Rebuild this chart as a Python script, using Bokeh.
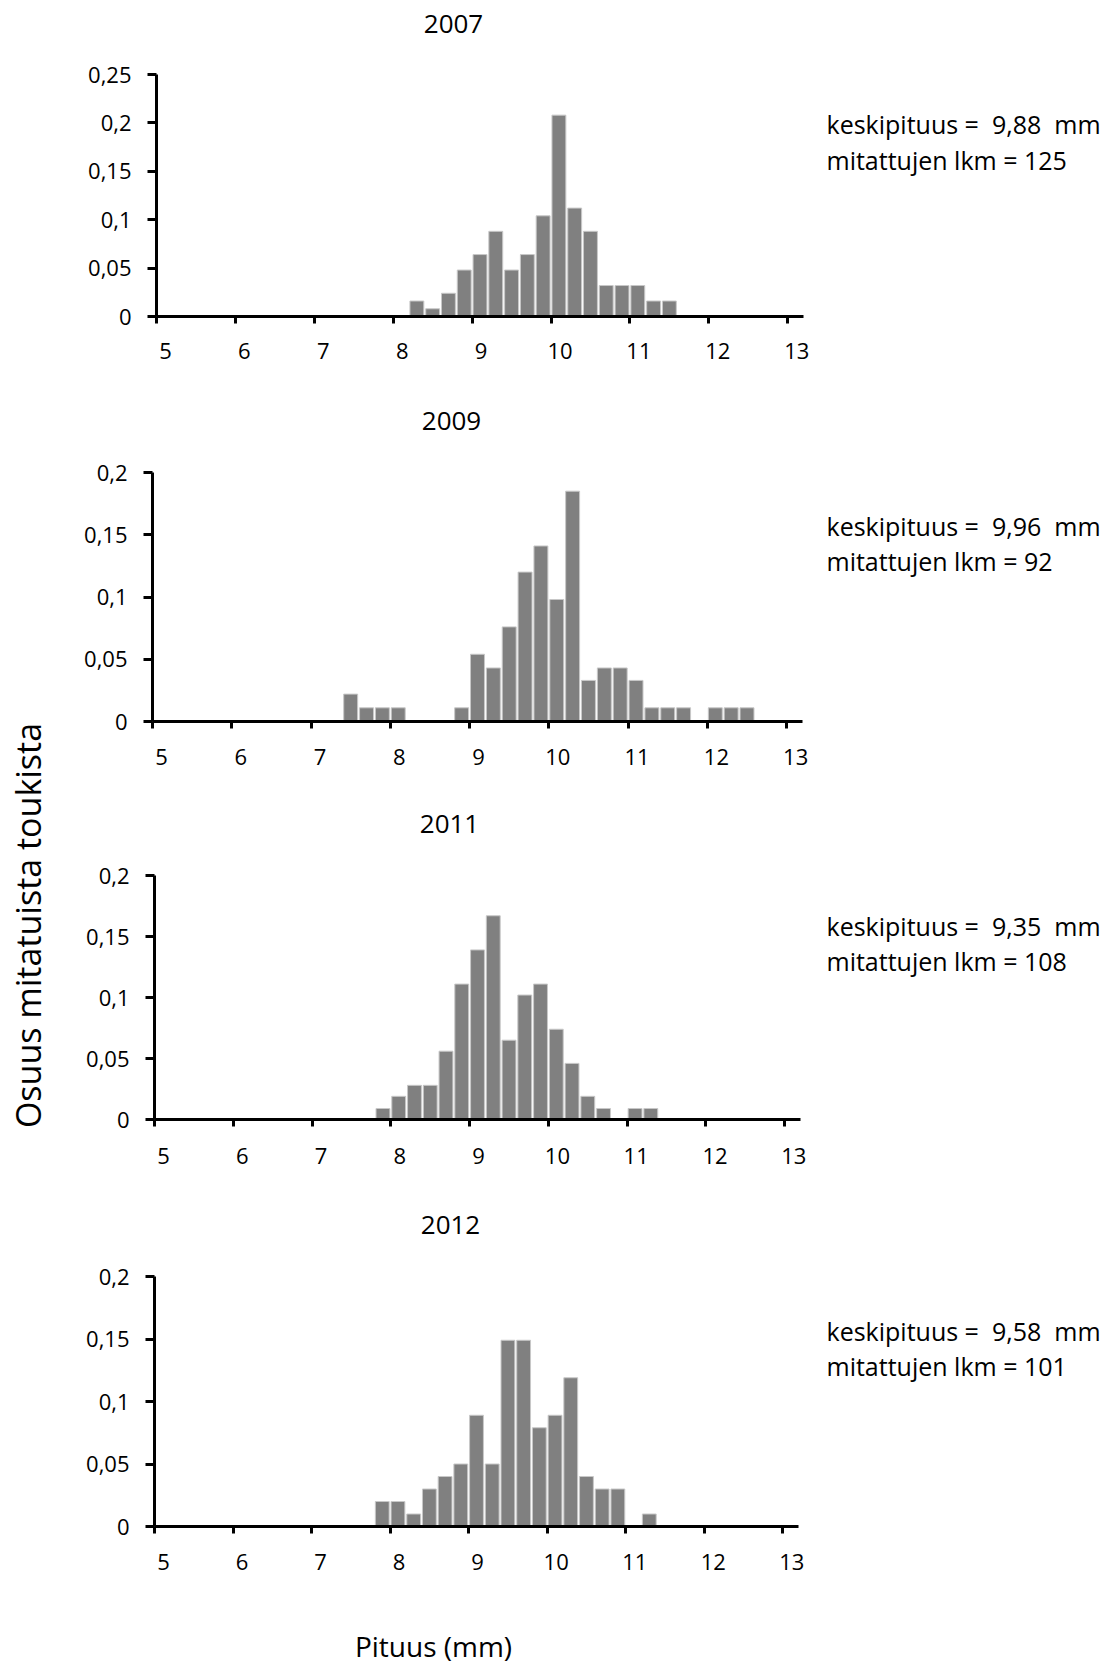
from bokeh.plotting import figure
from bokeh.layouts import row, column
from bokeh.models import Label, LabelSet, ColumnDataSource, FixedTicker, Range1d
from bokeh.core.properties import value
from bokeh.embed import file_html
from bokeh.resources import INLINE

# ---------------- data ----------------
years = ["2007", "2009", "2011", "2012"]
bin_width = 0.2  # mm, length class width

bins_2007 = [8.2, 8.4, 8.6, 8.8, 9.0, 9.2, 9.4, 9.6, 9.8, 10.0, 10.2, 10.4, 10.6, 10.8, 11.0, 11.2, 11.4]
vals_2007 = [0.016, 0.008, 0.024, 0.048, 0.064, 0.088, 0.048, 0.064, 0.104, 0.208, 0.112, 0.088, 0.032, 0.032, 0.032, 0.016, 0.016]

bins_2009 = [7.4, 7.6, 7.8, 8.0, 8.8, 9.0, 9.2, 9.4, 9.6, 9.8, 10.0, 10.2, 10.4, 10.6, 10.8, 11.0, 11.2, 11.4, 11.6, 12.0, 12.2, 12.4]
vals_2009 = [0.022, 0.011, 0.011, 0.011, 0.011, 0.054, 0.043, 0.076, 0.120, 0.141, 0.098, 0.185, 0.033, 0.043, 0.043, 0.033, 0.011, 0.011, 0.011, 0.011, 0.011, 0.011]

bins_2011 = [7.8, 8.0, 8.2, 8.4, 8.6, 8.8, 9.0, 9.2, 9.4, 9.6, 9.8, 10.0, 10.2, 10.4, 10.6, 11.0, 11.2]
vals_2011 = [0.009, 0.019, 0.028, 0.028, 0.056, 0.111, 0.139, 0.167, 0.065, 0.102, 0.111, 0.074, 0.046, 0.019, 0.009, 0.009, 0.009]

bins_2012 = [7.8, 8.0, 8.2, 8.4, 8.6, 8.8, 9.0, 9.2, 9.4, 9.6, 9.8, 10.0, 10.2, 10.4, 10.6, 10.8, 11.2]
vals_2012 = [0.020, 0.020, 0.010, 0.030, 0.040, 0.050, 0.089, 0.050, 0.149, 0.149, 0.079, 0.089, 0.119, 0.040, 0.030, 0.030, 0.010]

mean_lengths = ["9,88", "9,96", "9,35", "9,58"]
counts = ["125", "92", "108", "101"]

x_ticks = [5, 6, 7, 8, 9, 10, 11, 12, 13]
x_tick_labels = ["5", "6", "7", "8", "9", "10", "11", "12", "13"]
y_max = [0.25, 0.2, 0.2, 0.2]
y_ticks_025 = [0, 0.05, 0.1, 0.15, 0.2, 0.25]
y_labels_025 = ["0", "0,05", "0,1", "0,15", "0,2", "0,25"]
y_ticks_02 = [0, 0.05, 0.1, 0.15, 0.2]
y_labels_02 = ["0", "0,05", "0,1", "0,15", "0,2"]

y_title = "Osuus mitatuista toukista"
x_title = "Pituus (mm)"

all_bins = [bins_2007, bins_2009, bins_2011, bins_2012]
all_vals = [vals_2007, vals_2009, vals_2011, vals_2012]

# ---------------- layout / style (page pixels) ----------------
FONT = "Open Sans"
BAR_FILL = "#808080"
BAR_LINE = "#c8c8c8"
PAGE_W, PAGE_H = 1113, 1664
LEFT_W = 60
COL_W = PAGE_W - LEFT_W
RIGHT_PAD = 12     # right border of a panel
AXIS_BB = 16       # room under the frame for the x-axis ticks
X_START, X_END = 5, 13.2
NBSP = "\u00a0"

# title strips: (top, height, title centre x, title centre y)
title_strips = [(0, 48, 453, 23), (395, 50, 451, 420), (790, 58, 449, 823), (1185, 65, 450, 1224)]
# panel rows: top, height, y-axis x, frame_w, border_top, frame_h, tick-label centre y,
#             stats text x, stats line 1 y, stats line 2 y
rows_layout = [
    dict(top=48, h=347, ax=156, fw=647, bt=26, fh=242, ty=350, sx=826, s1=123, s2=159),
    dict(top=445, h=345, ax=152, fw=650, bt=27, fh=249, ty=756, sx=826, s1=525, s2=560),
    dict(top=848, h=337, ax=154, fw=646, bt=27, fh=244, ty=1155, sx=826, s1=925, s2=960),
    dict(top=1250, h=340, ax=154, fw=644, bt=26, fh=250, ty=1561, sx=826, s1=1330, s2=1365),
]
xlabel_strip = (1590, 74, 433, 1645)
ylabel_pos = (27, 925)


def canvas(x0, y0, w, h):
    """Blank figure whose data coordinates are page pixels."""
    c = figure(width=w, height=h, x_range=(x0, x0 + w), y_range=(y0 + h, y0),
               output_backend="svg", toolbar_location=None, tools="", min_border=0)
    c.axis.visible = False
    c.grid.visible = False
    c.outline_line_color = None
    return c


def text(c, x, y, s, size, align="center", angle=0):
    c.add_layout(Label(x=x, y=y, text=s, text_align=align, text_baseline="middle",
                       angle=angle, angle_units="deg",
                       text_font=FONT, text_font_size=size, text_color="black"))


col_items = []
for i, L in enumerate(rows_layout):
    bl = L["ax"] - LEFT_W
    # ---- title strip
    t0, th, tx, tyy = title_strips[i]
    tfig = canvas(LEFT_W, t0, COL_W, th)
    text(tfig, tx, tyy, years[i], "26px")
    col_items.append(tfig)

    # ---- histogram panel
    p = figure(frame_width=L["fw"], frame_height=L["fh"],
               min_border_left=bl, min_border_right=RIGHT_PAD,
               min_border_top=L["bt"], min_border_bottom=AXIS_BB,
               x_range=(X_START, X_END), y_range=(0, y_max[i]),
               output_backend="svg", toolbar_location=None, tools="")
    p.outline_line_color = None
    p.grid.visible = False

    centers = [b + bin_width / 2 for b in all_bins[i]]
    src = ColumnDataSource(dict(x=centers, top=all_vals[i]))
    p.vbar(x="x", top="top", width=bin_width * 0.88, bottom=0, source=src,
           fill_color=BAR_FILL, line_color=BAR_LINE, line_width=1)

    for ax in (p.xaxis[0], p.yaxis[0]):
        ax.axis_line_width = 3
        ax.axis_line_color = "black"
        ax.major_tick_line_width = 3
        ax.major_tick_line_color = "black"
        ax.major_tick_in = 0
    # x axis: ticks only (labels are centred on the first class of each mm, below)
    p.xaxis.ticker = FixedTicker(ticks=[], minor_ticks=x_ticks)
    p.xaxis.minor_tick_line_color = "black"
    p.xaxis.minor_tick_line_width = 3
    p.xaxis.minor_tick_in = 0
    p.xaxis.minor_tick_out = 7
    p.xaxis.major_label_standoff = 0

    yt = y_ticks_025 if i == 0 else y_ticks_02
    yl = y_labels_025 if i == 0 else y_labels_02
    p.yaxis.ticker = FixedTicker(ticks=yt)
    p.yaxis.minor_tick_line_color = None
    p.yaxis.major_label_overrides = {t: s for t, s in zip(yt, yl)}
    p.yaxis.major_tick_out = 9
    p.yaxis.major_label_standoff = 16
    p.yaxis.major_label_text_font = FONT
    p.yaxis.major_label_text_font_size = "22px"
    p.yaxis.major_label_text_color = "black"

    # ---- x tick label strip on the same x scale (frame widened by RIGHT_PAD px)
    panel_h = L["bt"] + L["fh"] + AXIS_BB
    strip_top = L["top"] + panel_h
    strip_h = L["h"] - panel_h
    strip_end = X_END + RIGHT_PAD * (X_END - X_START) / L["fw"]
    s = figure(frame_width=L["fw"] + RIGHT_PAD, frame_height=strip_h,
               min_border_left=bl, min_border_right=0,
               min_border_top=0, min_border_bottom=0,
               x_range=(X_START, strip_end), y_range=(strip_top + strip_h, strip_top),
               output_backend="svg", toolbar_location=None, tools="")
    s.axis.visible = False
    s.grid.visible = False
    s.outline_line_color = None
    lsrc = ColumnDataSource(dict(x=x_ticks, y=[L["ty"]] * len(x_ticks), t=x_tick_labels))
    s.add_layout(LabelSet(x="x", y="y", text="t", source=lsrc, x_offset=9,
                          text_align="center", text_baseline="middle",
                          text_font=value(FONT), text_font_size=value("22px"),
                          text_color="black"))

    # ---- statistics to the right
    st_left = LEFT_W + bl + L["fw"] + RIGHT_PAD
    st = canvas(st_left, L["top"], PAGE_W - st_left, L["h"])
    text(st, L["sx"], L["s1"],
         "keskipituus =" + NBSP + " " + mean_lengths[i] + NBSP + " mm", "25px", align="left")
    text(st, L["sx"], L["s2"], "mitattujen lkm = " + counts[i], "25px", align="left")

    col_items.append(row(column(p, s, spacing=0), st, spacing=0))

# ---- common x title
y0, h, xx, yy = xlabel_strip
xf = canvas(LEFT_W, y0, COL_W, h)
text(xf, xx, yy, x_title, "28px")
col_items.append(xf)

# ---- common y title
left = canvas(0, 0, LEFT_W, PAGE_H)
text(left, ylabel_pos[0], ylabel_pos[1], y_title, "34px", angle=90)

page = row(left, column(*col_items, spacing=0), spacing=0)
open("out.html", "w").write(file_html(page, INLINE))
